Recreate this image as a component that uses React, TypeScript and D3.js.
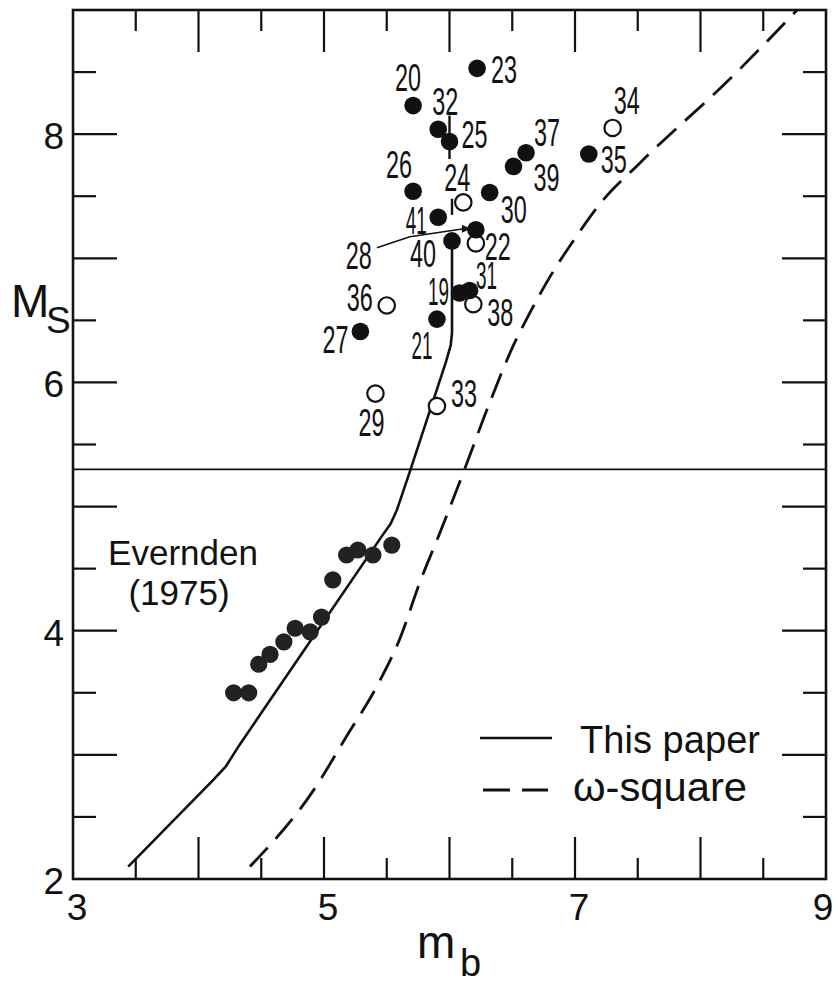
import React from "react";
import * as d3 from "d3";

const W = 833;
const H = 986;

// Axis extents and labelled ticks
const xDomain: [number, number] = [3, 9];
const yDomain: [number, number] = [2, 9];
const xTickLabels = [3, 5, 7, 9];
const yTickLabels = [2, 4, 6, 8];
const xMinorTicks = [3.5, 4, 4.5, 5, 5.5, 6, 6.5, 7, 7.5, 8, 8.5];
const yMinorTicks = [2.5, 3, 3.5, 4, 4.5, 5, 5.5, 6, 6.5, 7, 7.5, 8, 8.5];

// Numbered events (mb, Ms); open = hollow symbol
const eventIds = [19, 20, 21, 22, 23, 24, 25, 26, 27, 28, 29, 30, 31, 32, 33, 34, 35, 36, 37, 38, 39, 40, 41];
const eventMb = [6.08, 5.71, 5.9, 6.21, 6.22, 6.11, 6.0, 5.71, 5.29, 6.21, 5.41, 6.32, 6.16, 5.91, 5.9, 7.3, 7.11, 5.5, 6.61, 6.19, 6.51, 6.02, 5.91];
const eventMs = [6.72, 8.23, 6.51, 7.12, 8.53, 7.45, 7.94, 7.54, 6.41, 7.23, 5.91, 7.53, 6.74, 8.04, 5.81, 8.05, 7.84, 6.62, 7.85, 6.63, 7.74, 7.14, 7.33];
const eventOpen = [false, false, false, true, false, true, false, false, false, false, true, false, false, false, true, true, false, true, false, true, false, false, false];

// Evernden (1975) data
const everndenMb = [4.28, 4.4, 4.48, 4.57, 4.68, 4.77, 4.89, 4.98, 5.07, 5.18, 5.27, 5.39, 5.54];
const everndenMs = [3.5, 3.5, 3.73, 3.81, 3.91, 4.02, 3.99, 4.11, 4.41, 4.61, 4.65, 4.61, 4.69];

// "This paper" curve
const paperMb = [3.44, 4.12, 4.22, 4.32, 5.46, 5.53, 5.58, 5.69, 5.83, 5.97, 6.01, 6.02, 6.02];
const paperMs = [2.1, 2.8, 2.91, 3.07, 4.76, 4.86, 4.97, 5.3, 5.73, 6.16, 6.3, 6.4, 7.14];
// upper pieces of the same vertical at mb = 6.0
const paperUpperMb = [6.0, 6.02];
const paperUpperMs = [[7.8, 8.15], [7.35, 7.48]];

// omega-square curve
const omegaMb = [4.41, 4.92, 5.18, 5.42, 5.61, 5.76, 5.92, 6.12, 6.31, 6.51, 6.64, 6.8, 7.0, 7.2, 7.52, 8.26, 8.77];
const omegaMs = [2.1, 2.72, 3.15, 3.55, 3.95, 4.38, 4.78, 5.3, 5.81, 6.3, 6.56, 6.85, 7.16, 7.44, 7.77, 8.47, 9.0];

// reference level
const thresholdMs = 5.3;

// label placement around each numbered symbol (pixels)
const labelOffset: Record<number, [number, number]> = {
  19: [-21, -2], 20: [-5, -28], 21: [-15, 26], 22: [22, 3], 23: [27, 1],
  24: [-6, -25], 25: [25, -7], 26: [-14, -27], 27: [-25, 8], 28: [-117, 26],
  29: [-4, 29], 30: [24, 17], 31: [17, -15], 32: [7, -28], 33: [27, -13],
  34: [14, -27], 35: [25, 5], 36: [-27, -8], 37: [21, -20], 38: [27, 8],
  39: [33, 11], 40: [-29, 13], 41: [-22, 3],
};

const FONT = "'Liberation Sans', Arial, sans-serif";

export default function App() {
  const x = d3.scaleLinear().domain(xDomain).range([73, 826]);
  const y = d3.scaleLinear().domain(yDomain).range([879, 10]);

  const paperLine = d3
    .line<number>()
    .x((_, i) => x(paperMb[i]))
    .y((d) => y(d))
    .curve(d3.curveLinear);
  const omegaLine = d3
    .line<number>()
    .x((_, i) => x(omegaMb[i]))
    .y((d) => y(d))
    .curve(d3.curveMonotoneX);

  const events = eventIds.map((id, i) => ({ id, mb: eventMb[i], ms: eventMs[i], open: eventOpen[i] }));
  const labelWidth = (s: string) => s.split("").reduce((a, c) => a + (c === "1" ? 8 : 13), 0);

  const i28 = eventIds.indexOf(28);
  const p28x = x(eventMb[i28]);
  const p28y = y(eventMs[i28]);
  const leader = d3.line()([
    [p28x - 99, p28y + 18],
    [p28x - 66, p28y + 7],
    [p28x - 12, p28y - 1],
  ]);

  return (
    <svg
      width={W}
      height={H}
      style={{ position: "absolute", left: 0, top: 0, background: "#fff" }}
      fontFamily={FONT}
    >
      <rect width={W} height={H} fill="#fff" />

      {/* curves */}
      <path d={paperLine(paperMs) || ""} fill="none" stroke="#111" strokeWidth={2.6} strokeLinejoin="round" />
      {paperUpperMs.map((r, i) => (
        <line key={i} x1={x(paperUpperMb[i])} x2={x(paperUpperMb[i])} y1={y(r[0])} y2={y(r[1])} stroke="#111" strokeWidth={2.4} />
      ))}
      <path d={omegaLine(omegaMs) || ""} fill="none" stroke="#111" strokeWidth={2.8} strokeDasharray="26 12" />

      {/* reference level */}
      <line x1={x(3)} x2={x(9)} y1={y(thresholdMs)} y2={y(thresholdMs)} stroke="#111" strokeWidth={1.8} />

      {/* Evernden points */}
      {everndenMb.map((m, i) => (
        <circle key={i} cx={x(m)} cy={y(everndenMs[i])} r={8.6} fill="#222" />
      ))}

      {/* numbered events: hollow first, then solid */}
      {events.filter((e) => e.open).map((e) => (
        <circle key={e.id} cx={x(e.mb)} cy={y(e.ms)} r={8.2} fill="#fff" stroke="#111" strokeWidth={2.2} />
      ))}
      {events.filter((e) => !e.open).map((e) => (
        <circle key={e.id} cx={x(e.mb)} cy={y(e.ms)} r={8.8} fill="#111" />
      ))}

      {/* leader for event 28 */}
      <path d={leader || ""} fill="none" stroke="#111" strokeWidth={1.6} />
      <path d={`M${p28x - 5},${p28y - 1} l-9,-4 l0,8 z`} fill="#111" />

      {/* event labels */}
      {events.map((e) => {
        const [dx, dy] = labelOffset[e.id];
        const s = String(e.id);
        return (
          <text
            key={e.id}
            x={x(e.mb) + dx}
            y={y(e.ms) + dy + 13.5}
            fontSize={38}
            textAnchor="middle"
            textLength={labelWidth(s)}
            lengthAdjust="spacingAndGlyphs"
            fill="#111"
          >
            {s}
          </text>
        );
      })}

      {/* ticks */}
      {xMinorTicks.map((t) => {
        const len = Number.isInteger(t) ? 42 : 21;
        return (
          <g key={t} stroke="#111" strokeWidth={2.2}>
            <line x1={x(t)} x2={x(t)} y1={y(9)} y2={y(9) + len} />
            <line x1={x(t)} x2={x(t)} y1={y(2)} y2={y(2) - len} />
          </g>
        );
      })}
      {yMinorTicks.map((t) => {
        const len = Number.isInteger(t) ? 44 : 23;
        return (
          <g key={t} stroke="#111" strokeWidth={2.2}>
            <line x1={x(3)} x2={x(3) + len} y1={y(t)} y2={y(t)} />
            <line x1={x(9)} x2={x(9) - len} y1={y(t)} y2={y(t)} />
          </g>
        );
      })}

      {/* frame */}
      <rect x={x(3)} y={y(9)} width={x(9) - x(3)} height={y(2) - y(9)} fill="none" stroke="#111" strokeWidth={2.6} />

      {/* tick labels */}
      {xTickLabels.map((t) => (
        <text key={t} x={x(t) + (t === 9 ? -3 : 4)} y={920} fontSize={37} textAnchor="middle" fill="#111">
          {t}
        </text>
      ))}
      {yTickLabels.map((t) => (
        <text key={t} x={64} y={y(t) + 15} fontSize={37} textAnchor="end" fill="#111">
          {t}
        </text>
      ))}

      {/* axis titles */}
      <text x={11} y={317} fontSize={46} fill="#111">M</text>
      <text x={46} y={333} fontSize={37} fill="#111">S</text>
      <text x={417} y={958} fontSize={46} fill="#111">m</text>
      <text x={460} y={976} fontSize={38} fill="#111">b</text>

      {/* annotation */}
      <text x={183} y={565} fontSize={35} textAnchor="middle" fill="#111">Evernden</text>
      <text x={179} y={605} fontSize={35} textAnchor="middle" fill="#111">(1975)</text>

      {/* legend */}
      <line x1={480} x2={552} y1={738} y2={738} stroke="#111" strokeWidth={2.6} />
      <text x={580} y={753} fontSize={38} textLength={180} lengthAdjust="spacing" fill="#111">This  paper</text>
      <line x1={483} x2={548} y1={790} y2={790} stroke="#111" strokeWidth={2.8} strokeDasharray="27 12" />
      <text x={573} y={801} fontSize={40} textLength={174} lengthAdjust="spacingAndGlyphs" fill="#111">ω-square</text>
    </svg>
  );
}
